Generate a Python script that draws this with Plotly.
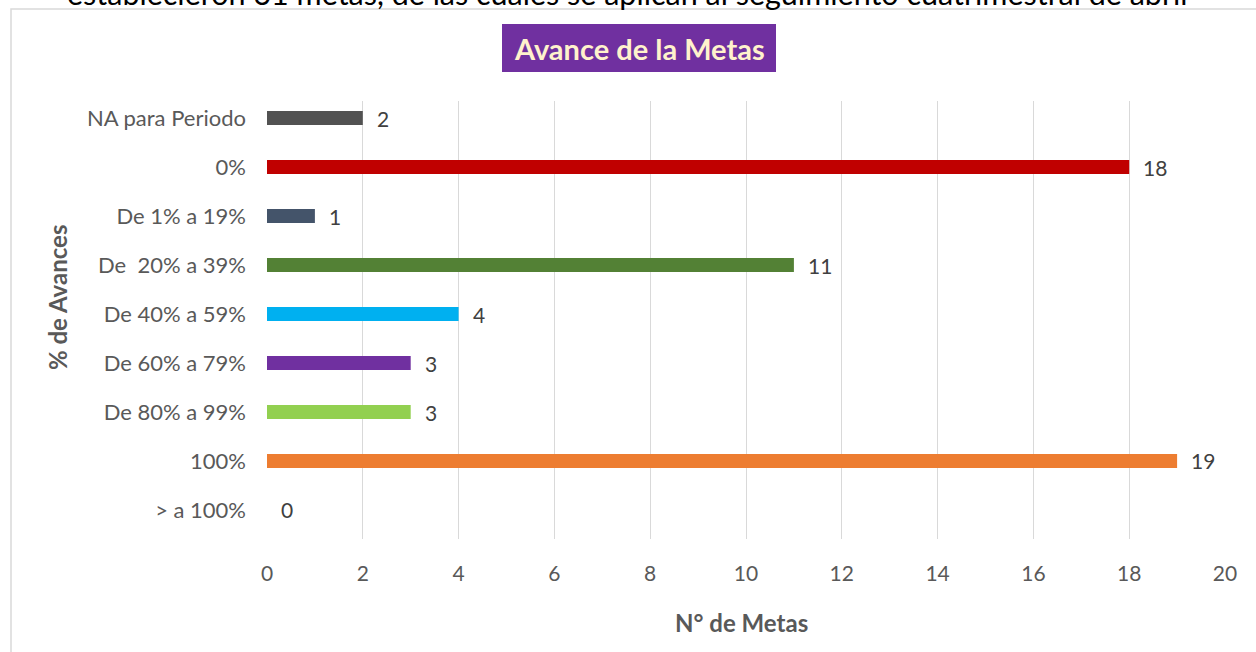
import plotly.graph_objects as go

categories = ["NA para Periodo", "0%", "De 1% a 19%", "De  20% a 39%", "De 40% a 59%",
              "De 60% a 79%", "De 80% a 99%", "100%", "> a 100%"]
values = [2, 18, 1, 11, 4, 3, 3, 19, 0]
colors = ["#525252", "#C00000", "#44546A", "#538135", "#00B0F0",
          "#7030A0", "#92D050", "#ED7D31", "#A5A5A5"]
x_ticks = [0, 2, 4, 6, 8, 10, 12, 14, 16, 18, 20]
chart_title = "Avance de la Metas"
x_title = "N° de Metas"
y_title = "% de Avances"
cut_text = "establecieron 61 metas, de las cuales se aplican al seguimiento cuatrimestral de abril"

W, H = 1256, 652
L, R, T, B = 267, 31, 101, 113
pw, ph = W - L - R, H - T - B

def px_x(p):
    return (p - L) / pw

def px_y(p):
    return (H - B - p) / ph

FONT = "Lato"
GRAY = "#595959"

fig = go.Figure()
fig.add_trace(go.Bar(
    x=values, y=categories, orientation="h",
    marker=dict(color=colors, line=dict(width=0)),
    width=0.29, hoverinfo="x+y",
))

annotations = []
for c, v in zip(categories, values):
    annotations.append(dict(x=v, y=c, xref="x", yref="y", text=str(v), showarrow=False,
                            xanchor="left", yanchor="middle", xshift=12,
                            font=dict(family=FONT, size=21, color="#404040")))

# title
annotations.append(dict(x=px_x(639), y=px_y(48), xref="paper", yref="paper", text="<b>" + chart_title + "</b>",
                        showarrow=False, xanchor="center", yanchor="middle",
                        font=dict(family=FONT, size=29, color="#FFF2CC")))
# axis titles
annotations.append(dict(x=px_x(741), y=px_y(622), xref="paper", yref="paper", text="<b>" + x_title + "</b>",
                        showarrow=False, xanchor="center", yanchor="middle",
                        font=dict(family=FONT, size=24, color=GRAY)))
annotations.append(dict(x=px_x(57), y=px_y(298), xref="paper", yref="paper", text="<b>" + y_title + "</b>",
                        showarrow=False, xanchor="center", yanchor="middle", textangle=-90,
                        font=dict(family=FONT, size=24, color=GRAY)))
# cut-off document text at top (partially visible in the reference)
annotations.append(dict(x=px_x(627), y=px_y(-7), xref="paper", yref="paper", text=cut_text,
                        showarrow=False, xanchor="center", yanchor="middle",
                        font=dict(family=FONT, size=30.5, color="#000000")))

shapes = [
    dict(type="rect", xref="paper", yref="paper", x0=px_x(11), x1=px_x(1270), y0=px_y(670), y1=px_y(9),
         line=dict(color="#D9D9D9", width=1.5), fillcolor="rgba(0,0,0,0)", layer="below"),
    dict(type="rect", xref="paper", yref="paper", x0=px_x(502), x1=px_x(776), y0=px_y(72), y1=px_y(24),
         line=dict(width=0), fillcolor="#7030A0", layer="below"),
]

fig.update_layout(
    width=W, height=H,
    margin=dict(l=L, r=R, t=T, b=B, pad=0),
    paper_bgcolor="white", plot_bgcolor="white",
    showlegend=False, bargap=0.7,
    annotations=annotations, shapes=shapes,
    font=dict(family=FONT, color=GRAY),
    xaxis=dict(range=[0, 20], tickvals=x_ticks, showgrid=True, gridcolor="#D9D9D9", gridwidth=1.3,
               zeroline=False, showline=False, ticks="", ticklabelstandoff=20,
               tickfont=dict(family=FONT, size=21, color=GRAY)),
    yaxis=dict(type="category", categoryorder="array", categoryarray=categories,
               range=[8.592, -0.347], showgrid=False, zeroline=False, showline=False,
               ticks="", ticklabelstandoff=20,
               tickfont=dict(family=FONT, size=22, color=GRAY)),
)

fig.write_html("out.html", config={"displayModeBar": False},
               post_script="document.body.style.margin='0px';")
